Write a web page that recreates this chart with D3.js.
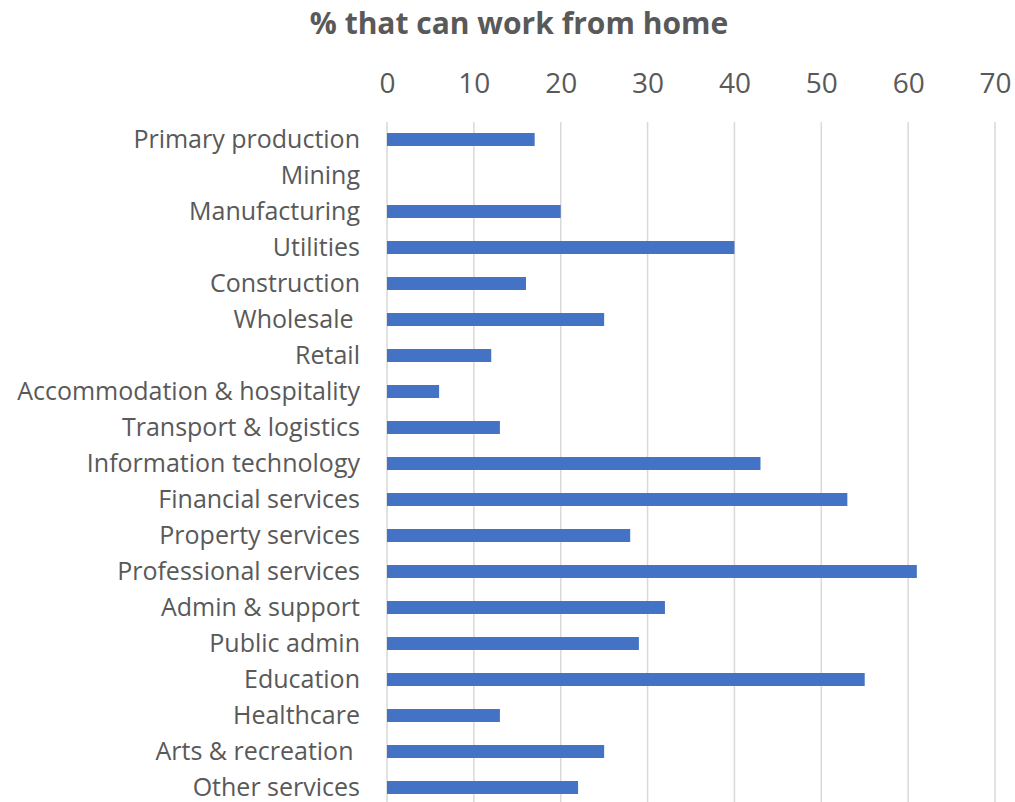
<!DOCTYPE html>
<html>
<head>
<meta charset="utf-8">
<script src="https://cdn.jsdelivr.net/npm/d3@7"></script>
<style>
  body { margin: 0; background: #fff; }
  svg { display: block; font-family: "Open Sans", sans-serif; }
</style>
</head>
<body>
<div id="chart"></div>
<script>
// data
var categories = ["Primary production", "Mining", "Manufacturing", "Utilities", "Construction",
  "Wholesale ", "Retail", "Accommodation & hospitality", "Transport & logistics",
  "Information technology", "Financial services", "Property services", "Professional services",
  "Admin & support", "Public admin", "Education", "Healthcare", "Arts & recreation ", "Other services"]
var values = [17, 0, 20, 40, 16, 25, 12, 6, 13, 43, 53, 28, 61, 32, 29, 55, 13, 25, 22]
var ticks = [0, 10, 20, 30, 40, 50, 60, 70]

var width = 1015, height = 802
var data = categories.map(function(c, i) { return { name: c, value: values[i] } })

var svg = d3.select("#chart").append("svg")
  .attr("width", width)
  .attr("height", height)

var x = d3.scaleLinear().domain([0, 70]).range([387, 995])
var y = d3.scaleBand()
  .domain(categories)
  .range([121.5, 805.5])
  .paddingInner(0.64)
  .paddingOuter(0.32)

// title
svg.append("text")
  .attr("x", 519)
  .attr("y", 34)
  .attr("text-anchor", "middle")
  .attr("fill", "#595959")
  .attr("font-size", "30px")
  .attr("font-weight", "bold")
  .text("% that can work from home")

// gridlines
svg.append("g")
  .selectAll("line")
  .data(ticks)
  .join("line")
  .attr("x1", function(d) { return x(d) })
  .attr("x2", function(d) { return x(d) })
  .attr("y1", 122)
  .attr("y2", 805)
  .attr("stroke", "#d9d9d9")
  .attr("stroke-width", 1.5)

// top axis labels
var xAxis = d3.axisTop(x).tickValues(ticks).tickSize(0).tickPadding(0)
var gx = svg.append("g")
  .attr("transform", "translate(0,93)")
  .call(xAxis)
gx.select(".domain").remove()
gx.selectAll("text")
  .attr("font-size", "28px")
  .attr("font-family", "Open Sans, sans-serif")
  .attr("fill", "#595959")

// category axis
var yAxis = d3.axisLeft(y).tickSize(0).tickPadding(0)
var gy = svg.append("g")
  .attr("transform", "translate(360,0)")
  .call(yAxis)
gy.select(".domain").remove()
gy.selectAll("text")
  .attr("font-size", "25px")
  .attr("font-family", "Open Sans, sans-serif")
  .attr("fill", "#595959")
  .style("white-space", "pre")

// bars
svg.append("g")
  .selectAll("rect")
  .data(data)
  .join("rect")
  .attr("x", x(0))
  .attr("y", function(d) { return y(d.name) })
  .attr("width", function(d) { return x(d.value) - x(0) })
  .attr("height", y.bandwidth())
  .attr("fill", "#4472c4")
</script>
</body>
</html>
